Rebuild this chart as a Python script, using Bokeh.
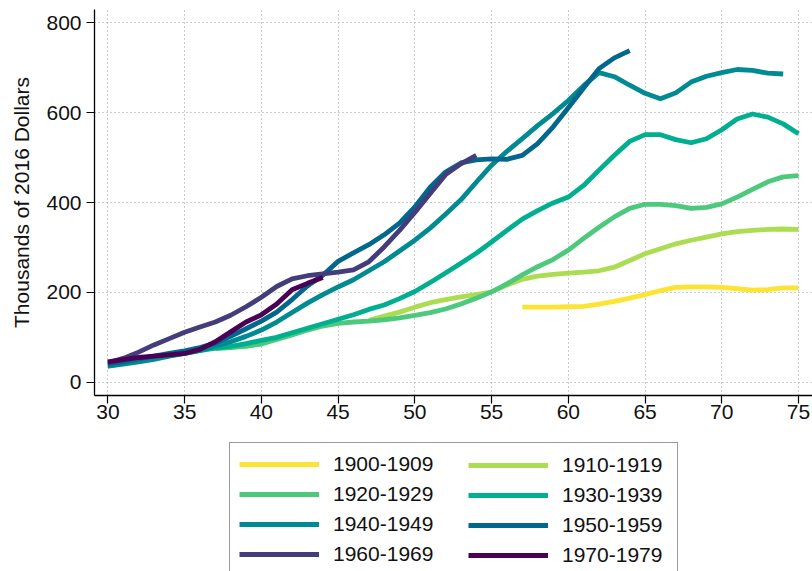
from bokeh.plotting import figure
from bokeh.models import Range1d, Legend, LegendItem, FixedTicker
from bokeh.layouts import column
from bokeh.embed import file_html
from bokeh.resources import INLINE

# ---- data ----
cohorts = ["1900-1909", "1910-1919", "1920-1929", "1930-1939",
           "1940-1949", "1950-1959", "1960-1969", "1970-1979"]
colors = ["#FDE333", "#ACDC52", "#4CC97C", "#00AF8F",
          "#008A92", "#01678C", "#443D7B", "#4B0055"]

ages_1900 = list(range(57, 76))
vals_1900 = [167, 167, 167, 168, 169, 174, 180, 187, 195, 204, 211, 212, 212, 211,
             208, 205, 206, 210, 210]

ages_1910 = list(range(47, 76))
vals_1910 = [138, 147, 156, 167, 177, 184, 190, 195, 201, 216, 229, 236, 240, 243,
             245, 248, 256, 271, 286, 297, 308, 316, 323, 330, 335, 338, 340, 341, 340]

ages_1920 = list(range(37, 76))
vals_1920 = [75, 77, 80, 85, 95, 105, 116, 125, 131, 134, 136, 139, 143, 149, 155,
             163, 174, 187, 201, 219, 239, 257, 273, 294, 320, 345, 368, 387, 396,
             396, 393, 387, 389, 397, 412, 429, 446, 457, 460]

ages_1930 = list(range(30, 76))
vals_1930 = [36, 42, 47, 53, 59, 64, 70, 76, 80, 86, 93, 100, 110, 120, 130, 140,
             150, 162, 172, 186, 202, 222, 243, 265, 287, 312, 338, 363, 382, 399,
             412, 438, 472, 505, 536, 551, 551, 540, 533, 542, 562, 586, 597, 590,
             575, 553]

ages_1940 = list(range(30, 75))
vals_1940 = [36, 40, 45, 51, 58, 64, 71, 80, 90, 102, 116, 134, 155, 176, 195, 212,
             228, 248, 268, 292, 316, 343, 374, 406, 445, 483, 514, 542, 571, 598,
             627, 660, 689, 680, 661, 643, 631, 644, 668, 681, 689, 696, 694, 688, 686]

ages_1950 = list(range(30, 65))
vals_1950 = [40, 45, 52, 58, 64, 70, 77, 87, 102, 119, 136, 156, 184, 214, 238, 269,
             288, 306, 328, 354, 390, 434, 468, 488, 495, 497, 496, 505, 531, 568,
             611, 655, 698, 722, 738]

ages_1960 = list(range(30, 55))
vals_1960 = [43, 53, 67, 83, 97, 111, 123, 134, 149, 168, 189, 213, 230, 237, 241,
             245, 250, 268, 301, 338, 378, 420, 462, 486, 505]

ages_1970 = list(range(30, 45))
vals_1970 = [45, 50, 55, 58, 61, 64, 73, 90, 112, 134, 150, 174, 206, 220, 233]

x_ticks = [30, 35, 40, 45, 50, 55, 60, 65, 70, 75]
y_ticks = [0, 200, 400, 600, 800]
y_title = "Thousands of 2016 Dollars"

series_x = [ages_1900, ages_1910, ages_1920, ages_1930,
            ages_1940, ages_1950, ages_1960, ages_1970]
series_y = [vals_1900, vals_1910, vals_1920, vals_1930,
            vals_1940, vals_1950, vals_1960, vals_1970]

FONT = "Liberation Sans"
FS = "21px"
LW = 4.8

# ---- main chart ----
p = figure(width=812, height=438, output_backend="svg", toolbar_location=None,
           x_range=Range1d(29.127, 75.91), y_range=Range1d(-29.6, 829.6),
           min_border_left=94, min_border_right=0, min_border_top=9,
           min_border_bottom=43)

p.outline_line_color = None
p.background_fill_color = "white"

for xs, ys, c in zip(series_x, series_y, colors):
    p.line(xs, ys, line_color=c, line_width=LW, line_join="round", line_cap="butt")

for ax in (p.xaxis[0], p.yaxis[0]):
    ax.axis_line_color = "black"
    ax.axis_line_width = 1.3
    ax.major_tick_line_color = "black"
    ax.major_tick_line_width = 1.2
    ax.major_tick_out = 8
    ax.major_tick_in = 0
    ax.minor_tick_line_color = None
    ax.major_label_text_font = FONT
    ax.major_label_text_font_size = FS
    ax.major_label_text_color = "#111111"

p.xaxis.ticker = FixedTicker(ticks=x_ticks)
p.yaxis.ticker = FixedTicker(ticks=y_ticks)
p.xaxis.major_label_standoff = 1
p.yaxis.major_label_standoff = 5

p.yaxis.axis_label = y_title
p.yaxis.axis_label_text_font = FONT
p.yaxis.axis_label_text_font_size = FS
p.yaxis.axis_label_text_font_style = "normal"
p.yaxis.axis_label_text_color = "#111111"
p.yaxis.axis_label_standoff = 10

for g in (p.xgrid[0], p.ygrid[0]):
    g.grid_line_color = "#999999"
    g.grid_line_dash = "1 3"
    g.grid_line_width = 1

# ---- legend strip below the chart (key lines lie outside its visible range) ----
q = figure(width=812, height=133, output_backend="svg", toolbar_location=None,
           x_range=Range1d(0, 1), y_range=Range1d(-2, -1),
           min_border_left=0, min_border_right=0, min_border_top=0,
           min_border_bottom=0)
q.axis.visible = False
q.grid.visible = False
q.outline_line_color = None

keys = [q.line(xs, ys, line_color=c, line_width=LW)
        for xs, ys, c in zip(series_x, series_y, colors)]

items_a = [LegendItem(label=cohorts[i], renderers=[keys[i]]) for i in (0, 2, 4, 6)]
items_b = [LegendItem(label=cohorts[i], renderers=[keys[i]]) for i in (1, 3, 5, 7)]


def style_legend(lg):
    lg.glyph_width = 80
    lg.glyph_height = 22
    lg.label_height = 22
    lg.label_standoff = 14
    lg.spacing = 6
    lg.padding = 9
    lg.margin = 0
    lg.label_text_font = FONT
    lg.label_text_font_size = FS
    lg.label_text_color = "#111111"


leg_a = Legend(items=items_a, location=(135, -5))
style_legend(leg_a)
leg_a.label_width = 335
leg_a.border_line_color = "#333333"
leg_a.border_line_width = 1
leg_a.background_fill_color = "white"
leg_a.background_fill_alpha = 1

leg_b = Legend(items=items_b, location=(365, -5))
style_legend(leg_b)
leg_b.label_width = 100
leg_b.border_line_alpha = 0
leg_b.background_fill_alpha = 0

q.add_layout(leg_a, "center")
q.add_layout(leg_b, "center")

layout = column(p, q, spacing=0)
open("out.html", "w").write(file_html(layout, INLINE))
